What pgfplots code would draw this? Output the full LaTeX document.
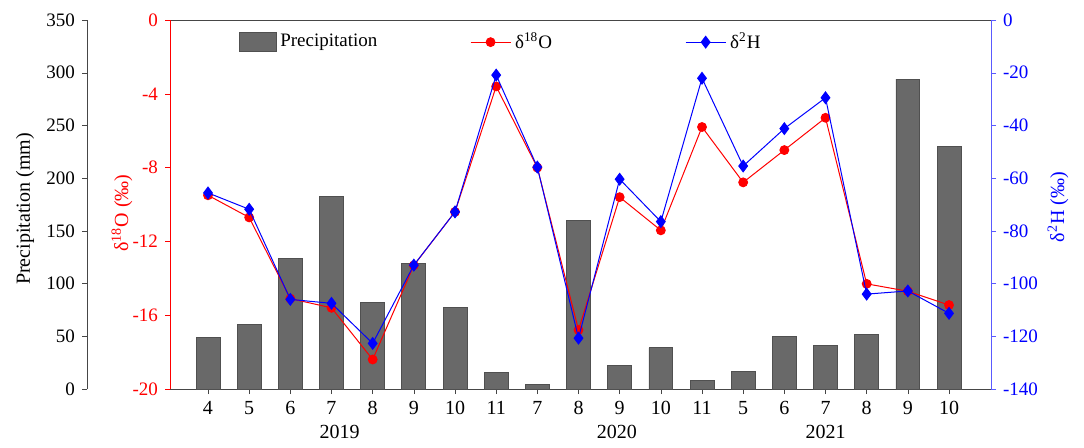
\documentclass[border=0pt]{standalone}
\usepackage{fontspec}
\setmainfont{Liberation Serif}
\usepackage{pgfplots}
\usepackage{pgfplotstable}
\pgfplotsset{compat=1.18}
\definecolor{barfill}{RGB}{105,105,105}
\definecolor{baredge}{RGB}{80,80,80}
\definecolor{axgray}{RGB}{70,70,70}
\definecolor{hblue}{RGB}{0,0,255}
\definecolor{haxis}{RGB}{90,90,255}

\pgfplotstableread{
x p o h
0 49 -9.5 -65.6
1 61 -10.7 -71.8
2 124 -15.1 -106
3 183 -15.6 -107.5
4 82 -18.4 -122.7
5 119 -13.3 -93
6 77 -10.4 -72.8
7 16 -3.6 -20.9
8 4 -8.0 -55.8
9 160 -16.8 -120.7
10 22 -9.6 -60.4
11 39 -11.4 -76.5
12 8 -5.8 -22.1
13 17 -8.8 -55.4
14 50 -7.05 -41.2
15 41 -5.3 -29.5
16 52 -14.3 -104
17 294 -14.7 -102.8
18 230 -15.45 -111.3
}\data

\begin{document}
\begin{tikzpicture}
\useasboundingbox (0pt,0pt) rectangle (542pt,223.5pt);
\pgfplotsset{
  every axis/.append style={
    scale only axis, height=184.5pt, anchor=south west,
    tick align=outside, major tick length=2.5pt,
    /pgf/number format/assume math mode=true,
    tick label style={font=\fontsize{9.5}{11}\selectfont},
    legend style={draw=none, fill=none, font=\fontsize{9.5}{11}\selectfont, anchor=west, inner sep=0pt},
  },
  main/.style={width=410.5pt, at={(85pt,29pt)}, xmin=-0.923, xmax=19.02},
}
% precipitation axis (detached)
\begin{axis}[width=1pt, at={(43.5pt,29pt)}, xmin=0, xmax=1, ymin=0, ymax=350,
  hide x axis, axis y line*=left, ytick={0,50,...,350},
  y axis line style={axgray}, ytick style={axgray}]
\end{axis}
% bars
\begin{axis}[main, ymin=0, ymax=350, axis x line*=bottom, hide y axis,
  xtick={0,...,18},
  xticklabels={4,5,6,7,8,9,10,11,7,8,9,10,11,5,6,7,8,9,10},
  x axis line style={axgray}, xtick style={axgray}, clip=false,
  xticklabel style={font=\fontsize{10}{12}\selectfont},
  legend style={at={(0.083,0.94)}}]
\addplot[ybar, bar width=0.58, fill=barfill, draw=baredge,
  legend image code/.code={\fill[barfill,draw=baredge] (0pt,-4.75pt) rectangle (18.5pt,4.75pt);}]
  table[x=x,y=p] \data;
\addlegendentry{Precipitation}
\draw[axgray] (rel axis cs:0,1) -- (rel axis cs:1,1);
\node[font=\fontsize{10}{12}\selectfont, yshift=-21.5pt] at (axis cs:3.2,0) {2019};
\node[font=\fontsize{10}{12}\selectfont, yshift=-21.5pt] at (axis cs:9.93,0) {2020};
\node[font=\fontsize{10}{12}\selectfont, yshift=-21.5pt] at (axis cs:15.0,0) {2021};
\end{axis}
% d18O
\begin{axis}[main, ymin=-20, ymax=0, hide x axis, axis y line*=left,
  ytick={-20,-16,...,0}, y axis line style={red}, ytick style={red},
  yticklabel style={red},
  legend style={at={(0.365,0.94)}},
  legend image code/.code={\draw[mark repeat=2,mark phase=2,#1] plot coordinates {(0pt,0pt) (10pt,0pt) (20pt,0pt)};}]
\addplot[red, line width=0.5pt, mark=*, mark size=2.2pt] table[x=x,y=o] \data;
\addlegendentry{δ\textsuperscript{18}O}
\end{axis}
% d2H
\begin{axis}[main, ymin=-140, ymax=0, hide x axis, axis y line*=right,
  ytick={-140,-120,...,0}, y axis line style={haxis}, ytick style={haxis},
  yticklabel style={hblue},
  legend style={at={(0.627,0.94)}},
  legend image code/.code={\draw[mark repeat=2,mark phase=2,#1] plot coordinates {(0pt,0pt) (10pt,0pt) (20pt,0pt)};}]
\addplot[hblue, line width=0.5pt, mark=diamond*, mark size=2.9pt] table[x=x,y=h] \data;
\addlegendentry{δ\textsuperscript{2}H}
\end{axis}
% axis titles
\node[rotate=90, font=\fontsize{10}{12}\selectfont] at (12.5pt,119pt) {Precipitation (mm)};
\node[rotate=90, font=\fontsize{10}{12}\selectfont, text=red] at (61pt,117pt) {δ\textsuperscript{18}O (‰)};
\node[rotate=90, font=\fontsize{10}{12}\selectfont, text=hblue] at (529pt,120pt) {δ\textsuperscript{2}H (‰)};
\end{tikzpicture}
\end{document}
